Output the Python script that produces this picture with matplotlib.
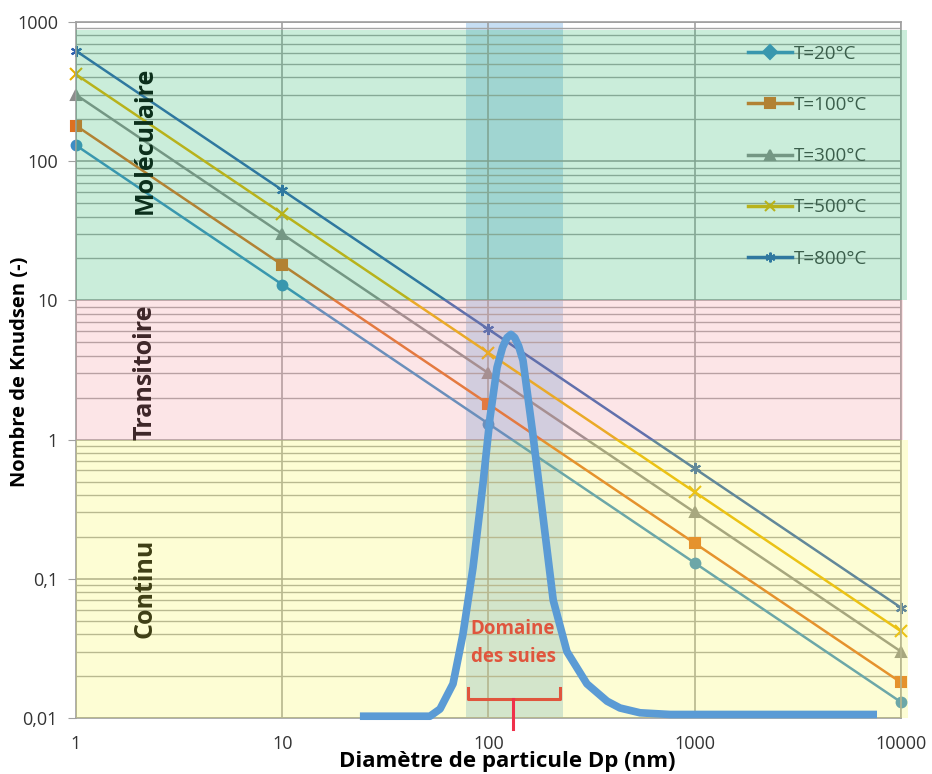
import numpy as np
import matplotlib
matplotlib.use("Agg")
import matplotlib.pyplot as plt
from matplotlib.lines import Line2D
from matplotlib.ticker import LogLocator, FuncFormatter, NullLocator

plt.rcParams['font.family'] = ['Open Sans', 'DejaVu Sans']

# Nombre de Knudsen en fonction du diamètre
diametres = [1, 10, 100, 1000, 10000]
kn_20 = [130, 13, 1.3, 0.13, 0.013]
kn_100 = [180, 18, 1.8, 0.18, 0.018]
kn_300 = [300, 30, 3.0, 0.30, 0.030]
kn_500 = [420, 42, 4.2, 0.42, 0.042]
kn_800 = [620, 62, 6.2, 0.62, 0.062]
labels = ["T=20°C", "T=100°C", "T=300°C", "T=500°C", "T=800°C"]

# distribution granulométrique des suies (échelle arbitraire)
dist_dp = [23.8, 52, 58.2, 67.3, 75.2, 84.1, 94.0, 101.7, 110, 117, 123, 128.5, 134,
           140, 147, 164, 184, 206, 240, 300, 376, 434, 543, 759, 7650]
dist_val = [0.0103, 0.0103, 0.0116, 0.0176, 0.040, 0.12, 0.48, 1.44, 3.3, 4.6, 5.4, 5.7, 5.4,
            4.7, 3.7, 1.10, 0.275, 0.070, 0.030, 0.0176, 0.0132, 0.0118, 0.0109, 0.0106, 0.0106]

# domaines
suies_min, suies_max = 78, 230
brace_x = [79.5, 131.5, 222]
brace_y = [0.0164, 0.0137, 0.0083]

colors = ["#3D8CC4", "#DE7020", "#8C8C8C", "#E6B000", "#2F62B0"]
markers = ["o", "s", "^", "x", (6, 2, 0)]
leg_markers = ["D", "s", "^", "x", (6, 2, 0)]

fig = plt.figure(figsize=(9.32, 7.74), dpi=100)
ax = fig.add_axes([76 / 932, 1 - 718 / 774, 825 / 932, 696 / 774])
ax.set_xscale("log")
ax.set_yscale("log")
ax.set_xlim(1, 10000)
ax.set_ylim(0.01, 1000)

# grille
ax.yaxis.set_minor_locator(LogLocator(base=10, subs=np.arange(2, 10)))
ax.xaxis.set_minor_locator(NullLocator())
ax.grid(which="major", color="#999999", lw=1.1, zorder=1)
ax.yaxis.grid(which="minor", color="#A4A4A4", lw=1)
ax.set_axisbelow(True)
for s in ax.spines.values():
    s.set_color("#A0A0A0")
    s.set_linewidth(1.2)

ax.tick_params(axis="y", which="major", length=6, color="#A0A0A0", labelsize=13,
               labelcolor="#333333", pad=7)
ax.tick_params(axis="y", which="minor", length=0)
ax.tick_params(axis="x", which="major", length=0, labelsize=13, labelcolor="#333333", pad=12)
fmt = FuncFormatter(lambda v, p: f"{v:g}".replace(".", ","))
ax.yaxis.set_major_formatter(fmt)
ax.xaxis.set_major_formatter(FuncFormatter(lambda v, p: f"{v:g}"))

# zone des suies (sous les bandes)
ax.axvspan(suies_min, suies_max, color="#C6DEF3", lw=0, zorder=0.5)

series = [kn_20, kn_100, kn_300, kn_500, kn_800]
for vals, c, m in zip(series, colors, markers):
    ms = 8 if m in ("x", (6, 2, 0)) else 7
    ax.plot(diametres, vals, color=c, lw=1.8, marker=m, ms=ms, mew=1.5,
            clip_on=False, zorder=2)

handles = [Line2D([], [], color=c, lw=2.5, marker=m, ms=7, mew=1.5)
           for c, m in zip(colors, leg_markers)]
leg = ax.legend(handles, labels, loc="upper left", bbox_to_anchor=(0.806, 0.978),
                frameon=False, fontsize=13.5, labelspacing=1.77, handlelength=2.3,
                handletextpad=0.1, borderaxespad=0)
for t in leg.get_texts():
    t.set_color("#404040")
leg.set_zorder(2.5)

# régimes
ax.text(0.0836, 0.830, "Moléculaire", transform=ax.transAxes, rotation=90,
        ha="center", va="center", fontsize=18, fontweight="bold", zorder=2.5)
ax.text(0.0836, 0.497, "Transitoire", transform=ax.transAxes, rotation=90,
        ha="center", va="center", fontsize=18, fontweight="bold", zorder=2.5)
ax.text(0.0836, 0.187, "Continu", transform=ax.transAxes, rotation=90,
        ha="center", va="center", fontsize=18, fontweight="bold", zorder=2.5)

# bandes colorées semi-transparentes
ax.axhspan(10, 880, xmin=0, xmax=1.007, color="#2FBB6F", alpha=0.25, lw=0,
           zorder=3, clip_on=False)
ax.axhspan(1, 10, xmin=0, xmax=1.003, color="#F79BA3", alpha=0.25, lw=0,
           zorder=3, clip_on=False)
ax.axhspan(0.01, 1, xmin=0, xmax=1.008, color="#FBFB57", alpha=0.25, lw=0,
           zorder=3, clip_on=False)

# distribution
ax.plot(dist_dp, dist_val, color="#5B9BD5", lw=5.5, solid_capstyle="butt",
        solid_joinstyle="round", zorder=4, clip_on=False)

# accolade "Domaine des suies"
bx0, bxm, bx1 = brace_x
by0, by1, by2 = brace_y
ax.plot([bx0, bx0, bx1, bx1], [by0, by1, by1, by0], color="#E0553D", lw=2.2,
        zorder=5, clip_on=False)
ax.plot([bxm, bxm], [by1, by2], color="#F0304A", lw=2.2, zorder=5, clip_on=False)
ax.text(bxm, 0.0345, "Domaine\ndes suies", ha="center", va="center", fontsize=13.5,
        fontweight="bold", color="#E0553D", linespacing=1.55, zorder=5)

fig.text(20 / 932, 1 - 372 / 774, "Nombre de Knudsen (-)", rotation=90,
         ha="center", va="center", fontsize=14.5, fontweight="bold")
fig.text(507 / 932, 1 - 762 / 774, "Diamètre de particule Dp (nm)",
         ha="center", va="center", fontsize=16, fontweight="bold")

fig.savefig("out.png", dpi=100)
